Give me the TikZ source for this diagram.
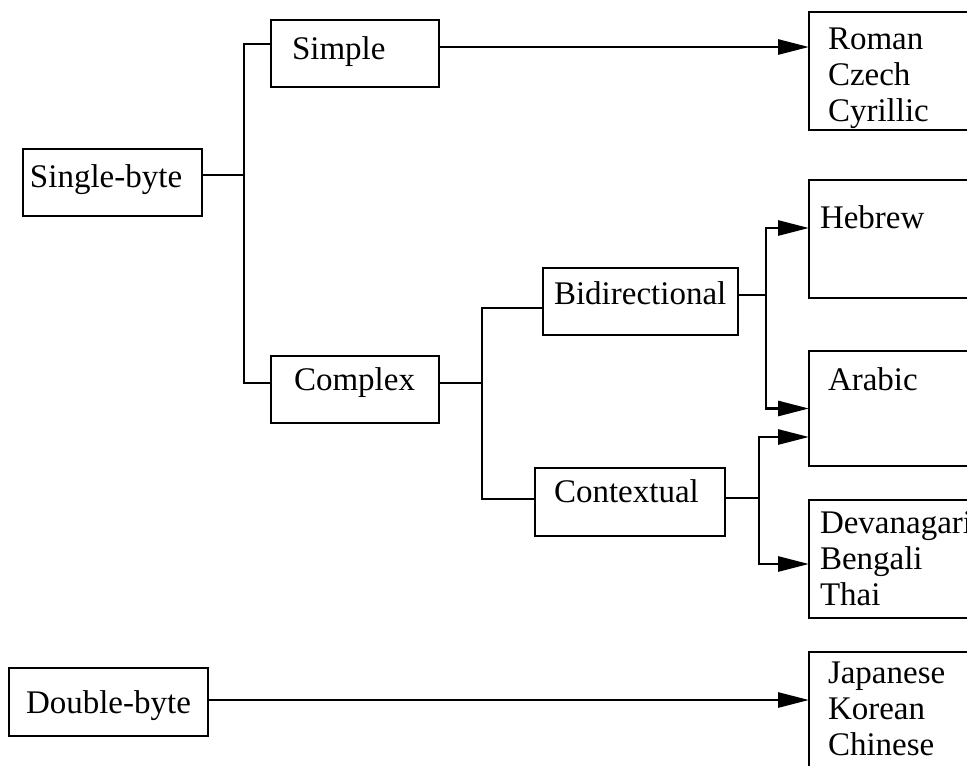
\documentclass[tikz,border=0pt]{standalone}
\usepackage{fontspec}
\setmainfont{Liberation Serif}
\usetikzlibrary{arrows.meta}
\tikzset{
  box/.style={draw, line width=2.8pt, rectangle, inner ysep=0pt, outer sep=0pt, align=left, anchor=north west,
    font=\fontsize{33}{36}\selectfont, text height=24pt},
  conn/.style={line width=2.8pt},
  arr/.style={conn, -{Triangle[length=31pt,width=15pt]}},
}
\begin{document}
\begin{tikzpicture}[x=1pt,y=-1pt]
\useasboundingbox (0,0) rectangle (967,766);
\clip (0,0) rectangle (967,766);
% left / middle boxes
\node[box, inner xsep=7pt, text width=165pt, minimum height=67pt, text depth=15pt] (single) at (23,149) {Single-byte};
\node[box, inner xsep=21pt, text width=126pt, minimum height=67pt, text depth=13pt] (simple) at (271,20) {Simple};
\node[box, inner xsep=23pt, text width=122pt, minimum height=67pt, text depth=23pt] (complex) at (271,356) {Complex};
\node[box, inner xsep=11pt, text width=173pt, minimum height=67pt, text depth=19pt] (bidi) at (543,268) {Bidirectional};
\node[box, inner xsep=19pt, text width=152pt, minimum height=68pt, text depth=24pt] (ctx) at (535,468) {Contextual};
\node[box, inner xsep=17pt, text width=165pt, minimum height=68pt, text depth=2pt] (double) at (9,668) {Double-byte};
% right boxes
\node[box, inner xsep=19pt, text width=162pt, minimum height=118pt, text depth=68pt] (roman) at (809,12) {Roman\\Czech\\Cyrillic};
\node[box, inner xsep=11pt, text width=178pt, minimum height=118pt, text depth=46pt] (hebrew) at (809,180) {Hebrew};
\node[box, inner xsep=19pt, text width=162pt, minimum height=115pt, text depth=61pt] (arabic) at (809,351) {Arabic};
\node[box, inner xsep=11pt, text width=178pt, minimum height=118pt, text depth=76pt] (deva) at (809,500) {Devanagari\\Bengali\\Thai};
\node[box, inner xsep=19pt, text width=162pt, minimum height=118pt, text depth=80pt] (japanese) at (809,652) {Japanese\\Korean\\Chinese};
% junctions
\coordinate (sj) at (244,175);
\coordinate (xj) at (482,383);
\coordinate (bj) at (766,295);
\coordinate (cj) at (759,498);
% connectors
\draw[conn] (sj -| single.east) -- (sj);
\draw[conn] (sj) |- ([yshift=9.5pt]simple.west);
\draw[conn] (sj) |- ([yshift=6.5pt]complex.west);
\draw[arr] ([yshift=6.5pt]simple.east) -- ([yshift=6.5pt]simple.east -| roman.west);
\draw[conn] (xj -| complex.east) -- (xj);
\draw[conn] (xj) |- ([yshift=-6.5pt]bidi.west);
\draw[conn] (xj) |- ([yshift=3pt]ctx.west);
\draw[conn] (bj -| bidi.east) -- (bj);
\draw[arr] (bj) |- ([yshift=11pt]hebrew.west);
\draw[arr] (bj) |- (arabic.west);
\draw[conn] (cj -| ctx.east) -- (cj);
\draw[arr] (cj) |- ([yshift=-28.5pt]arabic.west);
\draw[arr] (cj) |- ([yshift=-5pt]deva.west);
\draw[arr] ([yshift=2pt]double.east) -- ([yshift=2pt]double.east -| japanese.west);
\end{tikzpicture}
\end{document}
